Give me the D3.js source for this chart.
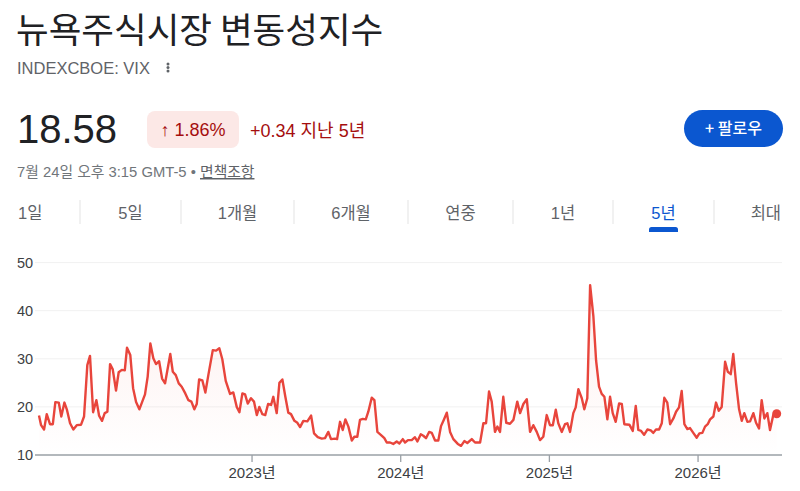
<!DOCTYPE html>
<html><head><meta charset="utf-8">
<script src="https://cdn.jsdelivr.net/npm/d3@7"></script>
<style>
html,body{margin:0;padding:0;background:#fff;}
svg{display:block;}
</style></head>
<body>
<svg id="c" width="800" height="491"></svg>
<script>
// ---- data ----
const title = "뉴욕주식시장 변동성지수";
const ticker = "INDEXCBOE: VIX";
const price = "18.58";
const pctChange = "↑ 1.86%";
const absChange = "+0.34 지난 5년";
const timestamp = "7월 24일 오후 3:15 GMT-5 • ";
const disclaimer = "면책조항";
const followLabel = "+ 팔로우";
const tabs = ["1일","5일","1개월","6개월","연중","1년","5년","최대"];
const activeTab = "5년";
const yTicks = [10,20,30,40,50];
const xTicks = [2023,2024,2025,2026];
const xTickLabels = ["2023년","2024년","2025년","2026년"];

// dates as decimal years, values = VIX close
const dates = [
2021.567,2021.581,2021.601,2021.619,2021.641,2021.660,2021.677,2021.700,2021.717,2021.738,
2021.754,2021.776,2021.798,2021.821,2021.850,2021.870,2021.892,2021.910,2021.931,2021.953,
2021.971,2021.991,2022.009,2022.027,2022.045,2022.063,2022.085,2022.103,2022.124,2022.144,
2022.159,2022.181,2022.200,2022.220,2022.242,2022.280,2022.298,2022.316,2022.336,2022.354,
2022.375,2022.395,2022.415,2022.450,2022.467,2022.487,2022.507,2022.527,2022.551,2022.572,
2022.592,2022.612,2022.628,2022.644,2022.666,2022.686,2022.706,2022.736,2022.758,2022.780,
2022.800,2022.823,2022.852,2022.874,2022.897,2022.915,2022.935,2022.953,2022.971,2022.993,
2023.013,2023.032,2023.049,2023.069,2023.089,2023.108,2023.128,2023.143,2023.166,2023.184,
2023.204,2023.224,2023.244,2023.262,2023.285,2023.305,2023.323,2023.345,2023.372,2023.397,
2023.417,2023.442,2023.469,2023.491,2023.513,2023.531,2023.558,2023.572,2023.592,2023.610,
2023.628,2023.648,2023.671,2023.688,2023.708,2023.726,2023.745,2023.765,2023.782,2023.805,
2023.823,2023.843,2023.866,2023.890,2023.906,2023.928,2023.950,2023.973,2023.991,2024.014,
2024.029,2024.049,2024.074,2024.096,2024.112,2024.135,2024.152,2024.170,2024.191,2024.209,
2024.231,2024.253,2024.271,2024.291,2024.310,2024.332,2024.354,2024.384,2024.406,2024.428,
2024.448,2024.478,2024.500,2024.534,2024.556,2024.574,2024.594,2024.612,2024.634,2024.650,
2024.668,2024.690,2024.710,2024.735,2024.758,2024.784,2024.803,2024.825,2024.848,2024.870,
2024.892,2024.915,2024.937,2024.959,2024.982,2025.004,2025.023,2025.043,2025.060,2025.083,
2025.105,2025.121,2025.139,2025.161,2025.177,2025.195,2025.218,2025.235,2025.255,2025.274,
2025.296,2025.314,2025.334,2025.352,2025.370,2025.390,2025.408,2025.426,2025.446,2025.469,
2025.487,2025.504,2025.538,2025.561,2025.581,2025.598,2025.617,2025.637,2025.659,2025.682,
2025.699,2025.717,2025.738,2025.756,2025.773,2025.793,2025.812,2025.834,2025.852,2025.872,
2025.890,2025.908,2025.928,2025.946,2025.968,2025.991,2026.009,2026.029,2026.047,2026.065,
2026.081,2026.103,2026.121,2026.139,2026.159,2026.182,2026.200,2026.220,2026.237,2026.256,
2026.276,2026.294,2026.311,2026.332,2026.350,2026.372,2026.390,2026.410,2026.428,2026.446,
2026.466,2026.484,2026.506,2026.529
];
const values = [
18.2,16.2,15.3,18.5,16.4,16.4,21.0,20.9,18.0,20.9,
19.5,16.6,15.3,16.2,16.3,18.0,28.7,30.6,18.9,21.4,
18.2,17.1,18.7,19.0,28.9,27.8,23.4,27.2,27.7,27.6,
32.3,30.8,23.9,21.0,19.5,22.6,26.3,33.2,30.1,28.9,
29.5,25.9,24.9,31.0,27.3,26.6,24.9,24.2,22.8,21.4,
21.1,19.5,20.6,25.7,25.5,23.0,26.6,31.8,31.7,32.2,
29.9,25.4,22.7,23.0,20.0,18.9,22.8,22.6,20.7,21.8,
21.1,18.3,20.0,18.5,18.3,20.6,20.4,22.1,18.7,25.0,
25.7,22.1,18.8,18.5,17.1,16.7,15.8,17.1,17.0,18.2,
14.5,13.7,13.4,13.5,14.8,13.3,13.4,13.3,16.9,15.2,
17.4,15.9,13.0,13.8,13.8,17.3,17.5,17.4,19.0,21.9,
21.4,14.8,14.2,13.5,12.6,12.6,12.3,12.8,12.4,13.3,
12.6,13.1,13.1,13.7,12.8,14.3,14.0,13.5,14.8,14.6,
13.0,13.0,16.0,17.4,18.8,14.8,13.3,12.3,11.9,12.9,
12.5,13.3,12.6,12.6,16.6,16.6,23.2,21.1,14.8,15.9,
14.8,22.1,16.7,16.5,17.3,21.1,18.7,20.6,21.6,14.8,
16.2,14.8,13.1,13.8,18.3,16.2,16.2,19.4,16.6,14.8,
16.4,16.6,14.8,18.7,19.9,23.7,21.8,19.5,21.8,45.3,
38.8,29.7,24.2,22.7,22.1,17.4,22.1,18.7,16.9,20.7,
20.6,16.4,16.3,15.0,20.2,15.2,15.0,14.2,15.3,15.1,
14.6,15.3,15.3,16.6,21.9,20.9,16.4,17.6,19.0,19.9,
23.3,16.4,15.4,15.6,14.6,13.6,14.5,14.6,15.9,16.4,
17.4,18.0,20.9,19.2,20.0,29.4,27.3,26.8,31.0,24.9,
19.5,17.1,18.7,16.9,17.0,18.7,16.7,15.5,21.4,17.6,
18.7,15.2,18.3,18.58
];

// ---- drawing ----
const svg = d3.select("#c");
const latin = "'Liberation Sans', Arial, 'Noto Sans CJK KR', sans-serif";
const kr = "'Noto Sans CJK KR', 'Liberation Sans', sans-serif";

// header
svg.append("text").attr("x",16).attr("y",43).attr("font-family",kr)
  .attr("font-size",35.5).attr("fill","#202124").text(title);
svg.append("text").attr("x",17).attr("y",73.5).attr("font-family",latin)
  .attr("font-size",16.5).attr("fill","#5f6368").text(ticker);
svg.selectAll("circle.dot3").data([64,67.5,71]).join("circle")
  .attr("cx",168).attr("cy",d=>d).attr("r",1.5).attr("fill","#5f6368");

svg.append("text").attr("x",17).attr("y",143).attr("font-family",latin)
  .attr("font-size",40).attr("fill","#202124").text(price);
svg.append("rect").attr("x",147).attr("y",111).attr("width",92).attr("height",37)
  .attr("rx",8).attr("fill","#fce8e6");
svg.append("text").attr("x",193).attr("y",136).attr("text-anchor","middle")
  .attr("font-family",latin).attr("font-size",18).attr("fill","#a50e0e").text(pctChange);
svg.append("text").attr("x",250).attr("y",137).attr("font-family",latin)
  .attr("font-size",18).attr("fill","#a50e0e").text(absChange);

const ts = svg.append("text").attr("x",17).attr("y",177).attr("font-family",latin)
  .attr("font-size",14.8).attr("fill","#70757a");
ts.append("tspan").text(timestamp);
ts.append("tspan").attr("text-decoration","underline").attr("fill","#5f6368").text(disclaimer);

// follow button
svg.append("rect").attr("x",684).attr("y",110).attr("width",99).attr("height",37)
  .attr("rx",18.5).attr("fill","#0b57d0");
svg.append("text").attr("x",733.5).attr("y",134).attr("text-anchor","middle")
  .attr("font-family",kr).attr("font-size",16).attr("font-weight",500)
  .attr("fill","#fff").text(followLabel);

// tabs
const seps = [80,181,294,408,513,613,714];
const bounds = [17].concat(seps).concat([782]);
tabs.forEach((t,i)=>{
  let x, anchor="middle";
  if(i===0){x=18;anchor="start";}
  else if(i===tabs.length-1){x=781;anchor="end";}
  else x=(bounds[i]+bounds[i+1])/2;
  svg.append("text").attr("x",x).attr("y",219).attr("text-anchor",anchor)
    .attr("font-family",latin).attr("font-size",16.5)
    .attr("fill", t===activeTab ? "#0b57d0" : "#5f6368").text(t);
  if(t===activeTab){
    svg.append("path")
      .attr("d",`M${x-14.5},232 L${x-14.5},229.5 Q${x-14.5},227 ${x-12},227 L${x+12},227 Q${x+14.5},227 ${x+14.5},229.5 L${x+14.5},232 Z`)
      .attr("fill","#0b57d0");
  }
});
svg.selectAll("line.sep").data(seps).join("line")
  .attr("x1",d=>d).attr("x2",d=>d).attr("y1",200).attr("y2",224)
  .attr("stroke","#e3e3e3").attr("stroke-width",1);

// chart
const x = d3.scaleLinear().domain([dates[0], dates[dates.length-1]]).range([39, 776.7]);
const y = d3.scaleLinear().domain([10,50]).range([455, 262.6]);
const gx0 = 35, gx1 = 782;

svg.selectAll("line.grid").data(yTicks.filter(d=>d>10)).join("line")
  .attr("x1",gx0).attr("x2",gx1).attr("y1",d=>y(d)).attr("y2",d=>y(d))
  .attr("stroke","#f1f1f1").attr("stroke-width",1);

svg.selectAll("text.ylab").data(yTicks).join("text")
  .attr("x",17).attr("y",d=>y(d)+5).attr("font-family",latin)
  .attr("font-size",14.5).attr("fill","#3c4043").text(d=>d);

const pts = dates.map((d,i)=>[d, values[i]]);
const defs = svg.append("defs");
const grad = defs.append("linearGradient").attr("id","ag").attr("x1",0).attr("x2",0).attr("y1",0).attr("y2",1);
grad.append("stop").attr("offset","0%").attr("stop-color","#ea4335").attr("stop-opacity",0.09);
grad.append("stop").attr("offset","100%").attr("stop-color","#ea4335").attr("stop-opacity",0);

svg.append("path").datum(pts)
  .attr("d", d3.area().x(d=>x(d[0])).y0(y(10)).y1(d=>y(d[1])))
  .attr("fill","url(#ag)");

// axis baseline + ticks
svg.append("line").attr("x1",gx0).attr("x2",gx1).attr("y1",y(10)).attr("y2",y(10))
  .attr("stroke","#9aa0a6").attr("stroke-width",1.3);
svg.selectAll("line.xt").data(xTicks).join("line")
  .attr("x1",d=>x(d)).attr("x2",d=>x(d)).attr("y1",y(10)).attr("y2",y(10)+7)
  .attr("stroke","#9aa0a6").attr("stroke-width",1.3);
svg.selectAll("text.xlab").data(xTicks).join("text")
  .attr("x",d=>x(d)).attr("y",478).attr("text-anchor","middle")
  .attr("font-family",latin).attr("font-size",15).attr("fill","#3c4043")
  .text((d,i)=>xTickLabels[i]);

svg.append("path").datum(pts)
  .attr("d", d3.line().x(d=>x(d[0])).y(d=>y(d[1])))
  .attr("fill","none").attr("stroke","#e8453c").attr("stroke-width",2.4)
  .attr("stroke-linejoin","round");

const last = pts[pts.length-1];
svg.append("circle").attr("cx",x(last[0])).attr("cy",y(last[1])).attr("r",4.5)
  .attr("fill","#e8453c");
</script>
</body></html>
